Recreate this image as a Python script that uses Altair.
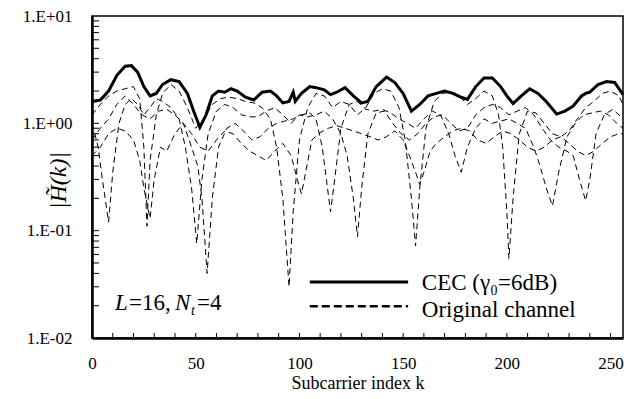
import altair as alt
import pandas as pd

FONT = "Liberation Serif"

# CEC (thick solid) : (subcarrier k, |H(k)|)
cec = [(0,1.6),(4,1.65),(8,2.0),(12,2.8),(16,3.4),(19,3.45),(22,3.0),(25,2.2),(28,1.8),(31,1.9),
       (34,2.3),(38,2.55),(42,2.45),(46,1.9),(49,1.3),(52,0.92),(55,1.2),(58,1.8),(61,2.0),(64,1.95),
       (67,2.1),(70,2.0),(74,1.75),(78,1.65),(82,1.95),(86,2.0),(89,1.8),(92,1.55),(95,1.6),(97,1.95),
       (98,1.6),(101,1.9),(105,2.2),(108,2.15),(112,2.05),(115,1.85),(118,1.95),(122,2.15),(126,1.8),(130,1.55),
       (133,1.6),(137,2.2),(142,2.7),(146,2.4),(150,1.9),(154,1.3),(158,1.5),(162,1.8),(166,1.9),(170,2.0),
       (174,1.9),(178,1.75),(181,1.67),(185,2.2),(189,2.65),(193,2.65),(197,2.2),(200,1.8),(203,1.53),(207,1.8),
       (211,2.1),(215,1.9),(219,1.6),(224,1.22),(228,1.3),(232,1.45),(236,1.8),(238,1.9),(240,1.95),(244,2.3),
       (248,2.45),(252,2.4),(256,1.85)]

# Original channel (dashed), four transmit antennas
orig1 = [(0,1.2),(4,1.5),(8,1.8),(12,2.0),(16,2.1),(20,2.2),(23,1.7),(25,0.6),(26.5,0.11),(28,0.45),
         (31,1.2),(34,1.9),(38,2.3),(42,2.0),(46,1.4),(50,0.9),(54,1.1),(58,1.5),(62,1.7),(66,1.75),
         (70,1.7),(74,1.6),(78,1.55),(82,1.4),(86,1.1),(89,0.6),(92,0.2),(95,0.03),(97,0.15),(100,0.7),
         (104,1.4),(108,1.9),(112,1.8),(116,1.4),(120,1.6),(124,1.5),(128,1.2),(132,1.4),(136,1.9),(140,2.1),
         (144,2.0),(148,1.4),(151,0.7),(154,0.2),(156,0.072),(158,0.25),(161,0.9),(165,1.6),(169,1.9),(173,1.95),
         (177,1.8),(181,1.5),(185,1.7),(189,2.0),(193,1.8),(196,1.2),(198,0.6),(200,0.15),(201,0.055),(203,0.2),
         (206,0.8),(210,1.3),(214,1.25),(218,1.0),(222,0.8),(226,0.75),(230,0.85),(234,1.1),(238,1.4),(242,1.6),
         (246,1.9),(250,2.0),(254,1.8),(256,1.5)]
orig2 = [(0,1.0),(3,0.6),(5,0.3),(8,0.12),(10,0.35),(13,1.0),(16,1.5),(19,1.7),(22,1.5),(25,1.2),
         (28,1.4),(31,1.7),(34,1.6),(38,1.4),(42,1.1),(45,0.6),(48,0.25),(50.5,0.076),(53,0.3),(56,0.8),
         (60,1.3),(64,1.5),(68,1.4),(72,1.2),(76,1.15),(80,1.15),(84,1.3),(88,1.4),(92,1.2),(96,1.0),
         (100,1.2),(104,1.15),(108,1.2),(112,1.3),(116,1.1),(120,0.8),(123,0.5),(126,0.2),(128,0.088),(130,0.25),
         (133,0.8),(137,1.25),(141,1.3),(145,1.0),(149,0.8),(153,0.7),(157,0.8),(161,1.0),(165,1.15),(169,1.2),
         (173,1.0),(177,0.85),(181,0.9),(185,1.2),(189,1.4),(193,1.5),(197,1.4),(201,1.2),(205,1.3),(209,1.4),
         (213,1.2),(217,0.9),(221,0.7),(225,0.6),(229,0.55),(232,0.5),(235,0.3),(238,0.19),(240,0.3),(243,0.8),
         (247,1.2),(251,1.35),(254,1.2),(256,1.1)]
orig3 = [(0,0.7),(4,0.9),(8,1.1),(12,1.5),(16,1.8),(20,1.5),(24,1.2),(28,1.1),(32,1.3),(36,1.35),
         (40,1.2),(44,1.0),(48,0.6),(51,0.4),(53,0.2),(55.5,0.04),(58,0.2),(61,0.6),(65,0.9),(69,1.0),
         (73,0.85),(77,0.7),(81,0.75),(85,0.9),(89,1.0),(93,1.05),(97,1.1),(101,1.2),(105,1.25),(108,1.1),
         (111,0.6),(113,0.3),(115,0.15),(117,0.3),(120,0.9),(124,1.5),(128,1.6),(132,1.35),(136,1.3),(140,1.35),
         (144,1.25),(148,1.1),(152,1.0),(156,0.9),(160,1.1),(164,1.3),(168,1.2),(172,0.8),(175,0.5),(178,0.35),
         (181,0.6),(185,0.9),(189,1.1),(193,1.0),(197,1.05),(201,1.1),(205,1.0),(209,0.9),(213,0.6),(216,0.4),
         (219,0.25),(222,0.17),(225,0.35),(229,0.75),(233,1.0),(237,1.2),(241,1.25),(245,1.3),(249,1.2),(253,1.0),
         (256,0.9)]
orig4 = [(0,0.5),(4,0.6),(8,0.8),(12,0.9),(16,0.85),(20,0.7),(23,0.45),(25,0.25),(28,0.13),(30,0.3),
         (33,0.6),(36,0.55),(40,0.8),(44,1.0),(48,0.8),(52,0.6),(56,0.55),(60,0.7),(64,0.85),(68,0.8),
         (72,0.65),(76,0.55),(80,0.5),(84,0.45),(88,0.55),(92,0.65),(96,0.5),(99,0.3),(101,0.22),(103,0.35),
         (106,0.7),(110,0.82),(114,0.9),(118,0.95),(122,0.9),(126,0.85),(130,0.8),(134,0.75),(138,0.7),(142,0.75),
         (146,0.85),(150,0.7),(153,0.5),(156,0.35),(158,0.27),(160,0.35),(163,0.55),(166,0.65),(170,0.75),(174,0.85),
         (178,0.9),(182,0.85),(186,0.7),(190,0.65),(194,0.75),(198,0.85),(202,0.8),(206,0.7),(210,0.6),(214,0.55),
         (218,0.6),(222,0.7),(226,0.75),(230,0.65),(234,0.55),(238,0.5),(242,0.55),(246,0.65),(250,0.75),(254,0.8),
         (256,0.8)]

x_ticks = [0, 50, 100, 150, 200, 250]
y_ticks = [0.01, 0.1, 1, 10]
y_minor = [m * d for d in (0.01, 0.1, 1) for m in range(2, 10)] + [0.1, 1]
x_minor = list(range(10, 251, 10))

W, H = 531, 322

df_cec = pd.DataFrame(cec, columns=["k", "v"])
frames = []
for i, s in enumerate([orig1, orig2, orig3, orig4]):
    d = pd.DataFrame(s, columns=["k", "v"])
    d["s"] = f"h{i+1}"
    frames.append(d)
df_orig = pd.concat(frames, ignore_index=True)

xscale = alt.Scale(domain=[0, 256], nice=False, zero=False)
yscale = alt.Scale(type="log", domain=[0.01, 10], nice=False)

xaxis = alt.Axis(values=x_ticks, format="d", title="Subcarrier index k", labelFlush=False,
                 ticks=False, tickSize=0,
                 labelPadding=17, labelFontSize=17, titleFontSize=18, titleFontWeight="normal",
                 titleY=50, titleBaseline="alphabetic")
yaxis = alt.Axis(values=y_ticks, labelFlush=False, ticks=False, tickSize=0,
                 labelPadding=20, labelFontSize=17, labelAlign="right",
                 labelExpr="datum.value >= 5 ? '1.E+01' : datum.value >= 0.5 ? '1.E+00' : datum.value >= 0.05 ? '1.E-01' : '1.E-02'",
                 title="|H\u0303(k)|", titleFontStyle="italic", titleFontSize=24, titleFontWeight="normal",
                 titleX=-34, titleY=164, titleAngle=270, titleAlign="center", titleBaseline="middle")

X = alt.X("k:Q", scale=xscale, axis=xaxis)
Y = alt.Y("v:Q", scale=yscale, axis=yaxis)

orig_lines = alt.Chart(df_orig).mark_line(color="black", strokeWidth=1, strokeDash=[6, 4]).encode(
    x=X, y=Y, detail="s:N", order="k:Q")
cec_line = alt.Chart(df_cec).mark_line(color="black", strokeWidth=3).encode(x=X, y=Y, order="k:Q")

ytick_rules = alt.Chart(pd.DataFrame({"v": y_minor})).mark_rule(color="black", strokeWidth=1).encode(
    y=Y, x=alt.value(0), x2=alt.value(7))
xtick_rules = alt.Chart(pd.DataFrame({"k": x_minor})).mark_rule(color="black", strokeWidth=1).encode(
    x=X, y=alt.value(H), y2=alt.value(H - 5))

# legend (drawn inside the plot, data coordinates)
leg_lines = pd.DataFrame({"k": [105, 105], "k2": [152.4, 152.4], "v": [0.0333, 0.01977], "s": ["CEC", "orig"]})
leg_solid = alt.Chart(leg_lines[leg_lines.s == "CEC"]).mark_rule(color="black", strokeWidth=3).encode(
    x=X, x2="k2:Q", y=Y)
leg_dash = alt.Chart(leg_lines[leg_lines.s == "orig"]).mark_rule(color="black", strokeWidth=2.5, strokeDash=[8, 4]).encode(
    x=X, x2="k2:Q", y=Y)
leg_text = pd.DataFrame({"k": [159, 159], "v": [0.0278, 0.01564], "t": ["CEC (\u03b3\u2080=6dB)", "Original channel"]})
leg_labels = alt.Chart(leg_text).mark_text(align="left", baseline="alphabetic", font=FONT, fontSize=23, color="black").encode(
    x=X, y=Y, text="t:N")

# annotation L=16, N_t=4
ann = pd.DataFrame({"k": [11.1] * 5, "v": [0.01816] * 5,
                    "t": ["L", "=16,", "N", "t", "=4"],
                    "dx": [0, 14, 60, 76, 82],
                    "dy": [0, 0, 0, 5, 0],
                    "it": ["italic", "normal", "italic", "italic", "normal"],
                    "fs": [23, 23, 23, 14, 23]})
ann_layers = []
for _, r in ann.iterrows():
    ann_layers.append(
        alt.Chart(pd.DataFrame([{"k": r.k, "v": r.v, "t": r.t}])).mark_text(
            align="left", baseline="alphabetic", font=FONT, fontSize=int(r.fs), fontStyle=r.it,
            dx=int(r.dx), dy=int(r.dy), color="black").encode(x=X, y=Y, text="t:N"))

chart = alt.layer(orig_lines, cec_line, ytick_rules, xtick_rules, leg_solid, leg_dash, leg_labels, *ann_layers).properties(
    width=W, height=H,
    padding={"left": 84, "top": 8, "right": 11, "bottom": 53},
    autosize=alt.AutoSizeParams(type="none"),
    background="white",
).configure_view(stroke="black", strokeWidth=1.5).configure_axis(
    grid=False, domainColor="black", domainWidth=2.5,
    labelColor="black", titleColor="black", labelFont=FONT, titleFont=FONT,
)

chart.save("out.html", embed_options={"renderer": "svg", "actions": False})
